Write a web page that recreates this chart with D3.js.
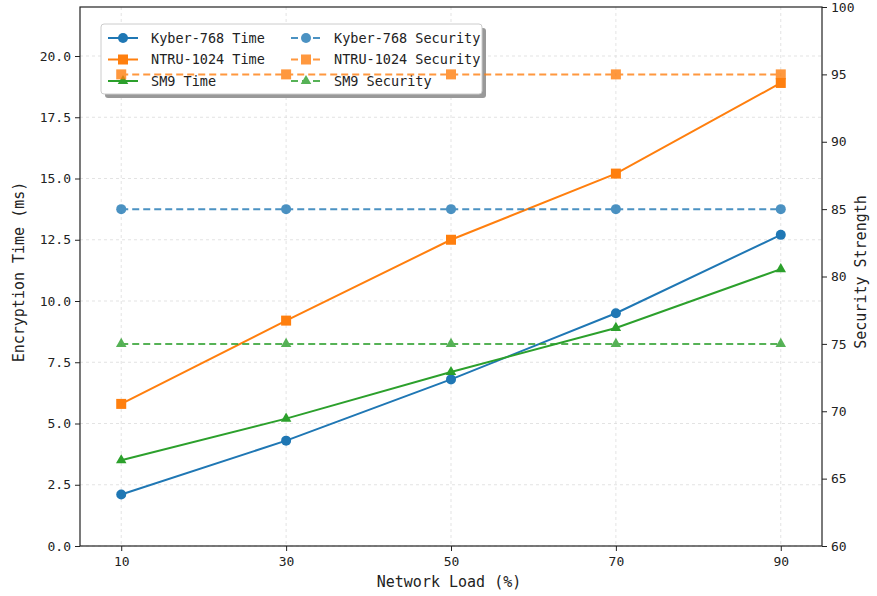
<!DOCTYPE html>
<html><head><meta charset="utf-8">
<script src="https://cdn.jsdelivr.net/npm/d3@7"></script>
<style>body{margin:0;background:#fff}svg{display:block}text{font-family:"DejaVu Sans Mono",monospace;fill:#222}</style>
</head><body><div id="c"></div>
<script>
const loads = [10, 30, 50, 70, 90];
const kyberTime = [2.1, 4.3, 6.8, 9.5, 12.7];
const ntruTime = [5.8, 9.2, 12.5, 15.2, 18.9];
const sm9Time = [3.5, 5.2, 7.1, 8.9, 11.3];
const kyberSec = [85, 85, 85, 85, 85];
const ntruSec = [95, 95, 95, 95, 95];
const sm9Sec = [75, 75, 75, 75, 75];
const leftTicks = [0, 2.5, 5, 7.5, 10, 12.5, 15, 17.5, 20];
const rightTicks = [60, 65, 70, 75, 80, 85, 90, 95, 100];

const W = 877, H = 596;
const m = {l: 80, r: 55, t: 7, b: 50};
const svg = d3.select("#c").append("svg").attr("width", W).attr("height", H);
const x = d3.scaleLinear().domain([5, 95]).range([m.l, 822]);
const yL = d3.scaleLinear().domain([0, 22]).range([546, m.t]);
const yR = d3.scaleLinear().domain([60, 100]).range([546, m.t]);

const colors = {kyber: "#1f77b4", ntru: "#ff7f0e", sm9: "#2ca02c"};

// grid
const g = svg.append("g");
g.selectAll(".gx").data(loads).join("line")
  .attr("x1", d => x(d)).attr("x2", d => x(d)).attr("y1", yL(22)).attr("y2", yL(0))
  .attr("stroke", "#dcdcdc").attr("stroke-width", 0.8).attr("stroke-dasharray", "3,3");
g.selectAll(".gy").data(leftTicks).join("line")
  .attr("x1", x(5)).attr("x2", x(95)).attr("y1", d => yL(d)).attr("y2", d => yL(d))
  .attr("stroke", "#dcdcdc").attr("stroke-width", 0.8).attr("stroke-dasharray", "3,3");

function marker(sel, type, color, size) {
  if (type === "circle") return sel.append("circle").attr("r", size/2).attr("fill", color);
  if (type === "square") return sel.append("rect").attr("x", -size/2).attr("y", -size/2).attr("width", size).attr("height", size).attr("fill", color);
  return sel.append("path").attr("d", d3.symbol(d3.symbolTriangle, size*size*0.48)()).attr("fill", color);
}

function series(vals, scale, color, type, dashed, opacity) {
  const gg = svg.append("g").attr("opacity", opacity);
  const line = d3.line().x((d, i) => x(loads[i])).y(d => scale(d));
  gg.append("path").datum(vals).attr("d", line).attr("fill", "none").attr("stroke", color)
    .attr("stroke-width", 2).attr("stroke-dasharray", dashed ? "7,4" : null);
  vals.forEach((v, i) => {
    const mg = gg.append("g").attr("transform", `translate(${x(loads[i])},${scale(v)})`);
    marker(mg, type, color, 10);
  });
}

series(kyberTime, yL, colors.kyber, "circle", false, 1);
series(ntruTime, yL, colors.ntru, "square", false, 1);
series(sm9Time, yL, colors.sm9, "triangle", false, 1);

// legend
const lg = svg.append("g");
lg.append("rect").attr("x", 105).attr("y", 28).attr("width", 381).attr("height", 70).attr("rx", 3).attr("fill", "#999");
lg.append("rect").attr("x", 101).attr("y", 24).attr("width", 381).attr("height", 70).attr("rx", 3)
  .attr("fill", "#fff").attr("stroke", "#ccc").attr("stroke-width", 1);
const items = [
  {t: "Kyber-768 Time", c: colors.kyber, m: "circle", d: false, col: 0, row: 0},
  {t: "NTRU-1024 Time", c: colors.ntru, m: "square", d: false, col: 0, row: 1},
  {t: "SM9 Time", c: colors.sm9, m: "triangle", d: false, col: 0, row: 2},
  {t: "Kyber-768 Security", c: colors.kyber, m: "circle", d: true, col: 1, row: 0},
  {t: "NTRU-1024 Security", c: colors.ntru, m: "square", d: true, col: 1, row: 1},
  {t: "SM9 Security", c: colors.sm9, m: "triangle", d: true, col: 1, row: 2}
];
items.forEach(it => {
  const x0 = it.col ? 291 : 108, yy = 38 + it.row * 21.5;
  const ig = lg.append("g").attr("opacity", it.d ? 0.8 : 1);
  ig.append("line").attr("x1", x0).attr("x2", x0 + 30).attr("y1", yy).attr("y2", yy)
    .attr("stroke", it.c).attr("stroke-width", 2).attr("stroke-dasharray", it.d ? "7,4" : null);
  marker(ig.append("g").attr("transform", `translate(${x0 + 15},${yy})`), it.m, it.c, 10);
  lg.append("text").attr("x", x0 + 43).attr("y", yy).attr("dy", "0.35em").attr("font-size", 13.5).text(it.t);
});

series(kyberSec, yR, colors.kyber, "circle", true, 0.8);
series(ntruSec, yR, colors.ntru, "square", true, 0.8);
series(sm9Sec, yR, colors.sm9, "triangle", true, 0.8);

// axes
const fmt1 = d3.format(".1f");
const axB = svg.append("g").attr("transform", "translate(0,546)")
  .call(d3.axisBottom(x).tickValues(loads).tickSize(5).tickPadding(6));
const axL = svg.append("g").attr("transform", `translate(${m.l},0)`)
  .call(d3.axisLeft(yL).tickValues(leftTicks).tickFormat(fmt1).tickSize(5).tickPadding(4));
const axR = svg.append("g").attr("transform", "translate(822,0)")
  .call(d3.axisRight(yR).tickValues(rightTicks).tickSize(5).tickPadding(4));
[axB, axL, axR].forEach(a => {
  a.select(".domain").remove();
  a.selectAll(".tick line").attr("stroke", "#222").attr("stroke-width", 1);
  a.selectAll("text").attr("font-size", 13).attr("fill", "#222").style("font-family", '"DejaVu Sans Mono",monospace');
});
svg.append("rect").attr("x", m.l).attr("y", m.t).attr("width", 822 - m.l).attr("height", 546 - m.t)
  .attr("fill", "none").attr("stroke", "#222").attr("stroke-width", 1.2);

svg.append("text").attr("x", 449).attr("y", 587).attr("text-anchor", "middle").attr("font-size", 15).text("Network Load (%)");
svg.append("text").attr("transform", "translate(24,272) rotate(-90)").attr("text-anchor", "middle").attr("font-size", 15).text("Encryption Time (ms)");
svg.append("text").attr("transform", "translate(866,272) rotate(-90)").attr("text-anchor", "middle").attr("font-size", 15).text("Security Strength");
</script></body></html>
